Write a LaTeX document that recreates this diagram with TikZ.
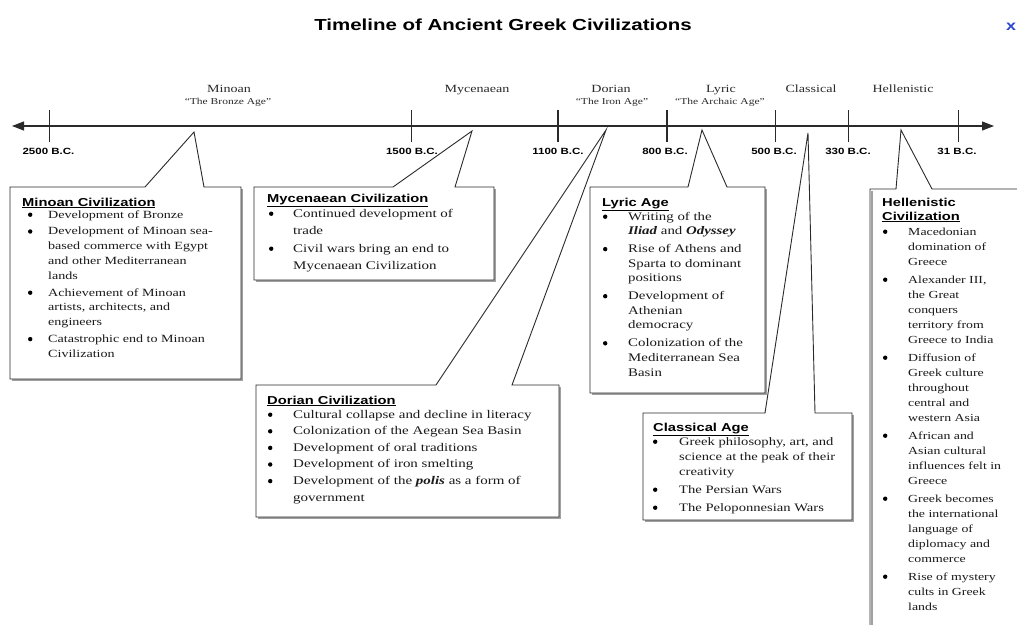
\documentclass[tikz,border=0pt]{standalone}
\usepackage{fontspec}
\setmainfont{Liberation Serif}[FakeStretch=1.28]
\newfontfamily\hfont{Liberation Sans}[FakeStretch=1.28]
\usetikzlibrary{arrows.meta}

\definecolor{ink}{HTML}{2A2A2A}
\definecolor{bodytext}{HTML}{1A1A1A}
\definecolor{shade}{HTML}{A0A0A0}
\definecolor{xblue}{HTML}{2B45D0}

% round list marker
\newcommand\bdot{\tikz[baseline=0pt]\fill[black] (0pt,3.3pt) circle[radius=2.2pt];}
% one bullet item; line breaks inside the item are given by hand
\newcommand\itm[1]{\bdot & \begin{tabular}[t]{@{}l@{}}#1\end{tabular}}
% space between two items
\newlength\itemgap
\newcommand\nx{\\\noalign{\vskip\itemgap}}
% bullet list: font size, line skip, item gap, bullet column width, rows
\newcommand\blist[5]{\fontsize{#1}{#2}\selectfont\setlength\itemgap{#3}%
  \begin{tabular}[t]{@{}p{#4}@{}l@{}}#5\end{tabular}}

\tikzset{
  callout/.style={draw=ink, line width=0.9pt, fill=white, line join=miter},
  openbox/.style={draw=ink, line width=0.9pt, line join=miter},
  boxshade/.style={fill=shade, draw=none},
  hd/.style={anchor=base west, inner sep=0pt, text=black,
    font=\hfont\bfseries\fontsize{11.5}{13}\selectfont},
  lst/.style={anchor=base west, inner sep=0pt, text=bodytext},
  era/.style={anchor=base, inner sep=0pt, text=ink, font=\fontsize{11}{13}\selectfont},
  eranote/.style={anchor=base, inner sep=0pt, text=ink, font=\fontsize{9}{11}\selectfont},
  datelbl/.style={anchor=base, inner sep=0pt, text=black,
    font=\hfont\bfseries\fontsize{9}{11}\selectfont},
  axis/.style={draw=ink, line width=1.1pt,
    {Triangle[length=12pt,width=9pt]}-{Triangle[length=12pt,width=9pt]}},
  tickmark/.style={draw=ink, line width=1pt},
  bigtick/.style={draw=ink, line width=2pt},
  title/.style={anchor=base, inner sep=0pt, font=\hfont\bfseries\fontsize{16}{18}\selectfont},
}

\begin{document}
\begin{tikzpicture}[x=1pt,y=-1pt]
\useasboundingbox (0,0) rectangle (1017,624);
\clip (0,0) rectangle (1017,624);

% title and close mark
\node[title] (title) at (503,30) {Timeline of Ancient Greek Civilizations};
\node[anchor=base, inner sep=0pt, text=xblue,
  font=\hfont\bfseries\fontsize{14}{16}\selectfont] (closemark) at (1011,30) {x};

% time axis
\coordinate (tlL) at (12,126);
\coordinate (tlR) at (994,126);
\draw[axis] (tlL) -- (tlR);

% ticks
\draw[tickmark] (49,110) -- (49,142);
\draw[tickmark] (411,110) -- (411,142);
\draw[bigtick] (558,110) -- (558,142);
\draw[bigtick] (667,110) -- (667,142);
\draw[tickmark] (775,110) -- (775,142);
\draw[tickmark] (848,110) -- (848,142);
\draw[tickmark] (958,110) -- (958,142);

% dates
\node[datelbl] (d2500) at (48.5,154) {2500 B.C.};
\node[datelbl] (d1500) at (412,154) {1500 B.C.};
\node[datelbl] (d1100) at (558,154) {1100 B.C.};
\node[datelbl] (d800)  at (665,154) {800 B.C.};
\node[datelbl] (d500)  at (774,154) {500 B.C.};
\node[datelbl] (d330)  at (848,154) {330 B.C.};
\node[datelbl] (d31)   at (957,154) {31 B.C.};

% eras
\node[era] (eMinoan) at (229,92) {Minoan};
\node[eranote] (nMinoan) at (228,104) {``The Bronze Age''};
\node[era] (eMyc) at (477,92) {Mycenaean};
\node[era] (eDorian) at (611,92) {Dorian};
\node[eranote] (nDorian) at (612,104) {``The Iron Age''};
\node[era] (eLyric) at (721,92) {Lyric};
\node[eranote] (nLyric) at (720,104) {``The Archaic Age''};
\node[era] (eClassical) at (811,92) {Classical};
\node[era] (eHell) at (903,92) {Hellenistic};

% pointer tips on the axis
\coordinate (tipMinoan) at (194,132);
\coordinate (tipMyc) at (472,131);
\coordinate (tipDorian) at (606,130);
\coordinate (tipLyric) at (702,130);
\coordinate (tipClassical) at (808,133);
\coordinate (tipHell) at (901,130);

% Minoan callout
\fill[boxshade] (12,189) rectangle (243,381);
\draw[callout] (10,187) -- (145,187) -- (tipMinoan) -- (204,187) -- (241,187)
  -- (241,379) -- (10,379) -- cycle;
\node[hd] (hMinoan) at (22,206) {\underline{Minoan Civilization}};
\node[lst] (lMinoan) at (27.8,218) {\blist{11}{14.8}{2pt}{20.2pt}{%
\itm{Development of Bronze}\nx
\itm{Development of Minoan sea-\\based commerce with Egypt\\and other Mediterranean\\lands}\nx
\itm{Achievement of Minoan\\artists, architects, and\\engineers}\nx
\itm{Catastrophic end to Minoan\\Civilization}}};

% Mycenaean callout
\fill[boxshade] (256,189) rectangle (496,282);
\draw[callout] (254,187) -- (393,187) -- (tipMyc) -- (455,187) -- (494,187)
  -- (494,280) -- (254,280) -- cycle;
\node[hd] (hMyc) at (267,202) {\underline{Mycenaean Civilization}};
\node[lst] (lMyc) at (268.8,217) {\blist{11.7}{17}{1pt}{24.2pt}{%
\itm{Continued development of\\trade}\nx
\itm{Civil wars bring an end to\\Mycenaean Civilization}}};

% Dorian callout
\fill[boxshade] (258,387) rectangle (561,519);
\draw[callout] (256,385) -- (436,385) -- (tipDorian) -- (512,385) -- (559,385)
  -- (559,517) -- (256,517) -- cycle;
\node[hd] (hDorian) at (267,404) {\underline{Dorian Civilization}};
\node[lst] (lDorian) at (267.8,418) {\blist{11.7}{16.6}{0pt}{25.2pt}{%
\itm{Cultural collapse and decline in literacy}\nx
\itm{Colonization of the Aegean Sea Basin}\nx
\itm{Development of oral traditions}\nx
\itm{Development of iron smelting}\nx
\itm{Development of the \textbf{\textit{polis}} as a form of\\government}}};

% Lyric callout
\fill[boxshade] (592,189) rectangle (767,395);
\draw[callout] (590,187) -- (688,187) -- (tipLyric) -- (727,187) -- (765,187)
  -- (765,393) -- (590,393) -- cycle;
\node[hd] (hLyric) at (602,206) {\underline{Lyric Age}};
\node[lst] (lLyric) at (602.8,220) {\blist{11.6}{14.7}{3pt}{25.2pt}{%
\itm{Writing of the\\\textbf{\textit{Iliad}} and \textbf{\textit{Odyssey}}}\nx
\itm{Rise of Athens and\\Sparta to dominant\\positions}\nx
\itm{Development of\\Athenian\\democracy}\nx
\itm{Colonization of the\\Mediterranean Sea\\Basin}}};

% Classical callout
\fill[boxshade] (645,415) rectangle (854,522);
\draw[callout] (643,413) -- (765,413) -- (tipClassical) -- (815,413) -- (852,413)
  -- (852,520) -- (643,520) -- cycle;
\node[hd] (hClassical) at (653,431) {\underline{Classical Age}};
\node[lst] (lClassical) at (652.8,445) {\blist{11.4}{15}{3pt}{26.2pt}{%
\itm{Greek philosophy, art, and\\science at the peak of their\\creativity}\nx
\itm{The Persian Wars}\nx
\itm{The Peloponnesian Wars}}};

% Hellenistic callout (runs past the right and lower edges)
\draw[draw=shade, line width=1.2pt] (872,191) -- (872,640);
\draw[openbox] (1030,189) -- (932,189) -- (tipHell) -- (896,189) -- (870,189) -- (870,640);
\node[hd] (hHell) at (882,206) {Hellenistic};
\node[hd] (hHell2) at (882,220) {\underline{Civilization}};
\node[lst] (lHell) at (882.8,235) {\blist{10.8}{15}{3pt}{25.2pt}{%
\itm{Macedonian\\domination of\\Greece}\nx
\itm{Alexander III,\\the Great\\conquers\\territory from\\Greece to India}\nx
\itm{Diffusion of\\Greek culture\\throughout\\central and\\western Asia}\nx
\itm{African and\\Asian cultural\\influences felt in\\Greece}\nx
\itm{Greek becomes\\the international\\language of\\diplomacy and\\commerce}\nx
\itm{Rise of mystery\\cults in Greek\\lands}}};

\end{tikzpicture}
\end{document}
